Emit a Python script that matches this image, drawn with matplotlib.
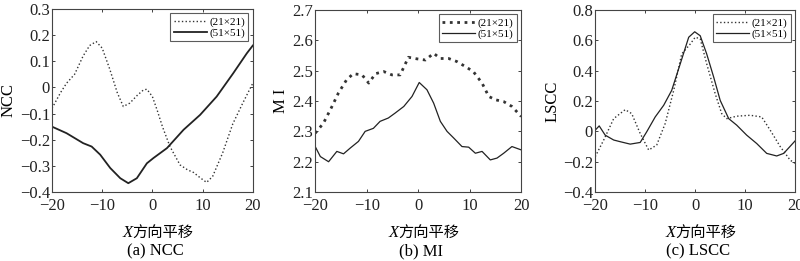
import matplotlib
matplotlib.use("Agg")
import matplotlib.pyplot as plt

plt.rcParams['font.family'] = ['Liberation Serif', 'Noto Sans CJK SC']

# (a) NCC
ncc_x_21 = [-20, -18.3, -17.1, -15.5, -13.8, -12.5, -11.2, -10, -8.5, -7, -5.8, -4.5, -3, -1.8, -1.1, 0, 1, 2, 3.5, 5.5, 7, 8.2, 9.5, 10.8, 12, 14, 16, 18, 20]
ncc_y_21 = [-0.08, -0.02, 0.016, 0.05, 0.12, 0.16, 0.175, 0.15, 0.07, -0.02, -0.073, -0.06, -0.03, -0.01, -0.007, -0.035, -0.09, -0.15, -0.226, -0.296, -0.315, -0.325, -0.345, -0.363, -0.34, -0.25, -0.14, -0.06, 0.016]
ncc_x_51 = [-20, -17.1, -13.8, -12.1, -10.4, -8.4, -6.4, -4.8, -3.1, -1.1, 0.2, 2.9, 6.2, 9.5, 12.8, 16.1, 18.8, 20]
ncc_y_51 = [-0.15, -0.175, -0.213, -0.226, -0.257, -0.308, -0.347, -0.366, -0.347, -0.29, -0.27, -0.232, -0.162, -0.105, -0.035, 0.054, 0.13, 0.16]

# (b) MI
mi_x_21 = [-20, -18.4, -16.8, -15.5, -13.9, -12.6, -10.9, -9.6, -8.3, -6.7, -5.1, -3.5, -1.9, -0.3, 1.4, 3.0, 4.3, 5.9, 7.5, 9.1, 10.7, 12.4, 13.7, 15.0, 16.6, 18.2, 20]
mi_y_21 = [2.294, 2.327, 2.38, 2.426, 2.47, 2.49, 2.486, 2.459, 2.49, 2.497, 2.486, 2.486, 2.544, 2.539, 2.535, 2.557, 2.54, 2.54, 2.53, 2.514, 2.497, 2.459, 2.415, 2.404, 2.398, 2.382, 2.349]
mi_x_51 = [-20, -19, -17.4, -15.8, -14.5, -13.2, -11.6, -10.3, -8.7, -7.4, -5.8, -4.5, -2.8, -1.2, 0.2, 1.7, 3.0, 4.3, 5.6, 6.9, 8.5, 9.8, 11.1, 12.4, 14.0, 15.3, 16.6, 18.2, 20]
mi_y_51 = [2.25, 2.217, 2.2, 2.234, 2.226, 2.245, 2.267, 2.3, 2.31, 2.333, 2.344, 2.36, 2.382, 2.415, 2.461, 2.437, 2.393, 2.333, 2.3, 2.278, 2.25, 2.248, 2.228, 2.234, 2.206, 2.212, 2.228, 2.25, 2.239]

# (c) LSCC
lscc_x_21 = [-20, -18.3, -16.3, -14, -12.7, -11, -9.3, -7.7, -6, -4.3, -2.7, -1, 0, 1, 2.3, 4, 5.3, 6.3, 8.3, 11, 13.3, 15, 17, 19, 20]
lscc_y_21 = [-0.167, -0.057, 0.084, 0.143, 0.117, -0.014, -0.123, -0.09, 0.052, 0.27, 0.51, 0.575, 0.62, 0.61, 0.445, 0.248, 0.117, 0.084, 0.1, 0.106, 0.095, 0.008, -0.1, -0.19, -0.21]
lscc_x_51 = [-20, -19.2, -18, -16.3, -15, -13, -11, -9.7, -8, -6.3, -4.7, -3, -1.3, -0.1, 1, 2.3, 3.7, 5, 6.7, 8.3, 10.3, 12.3, 14.3, 16.3, 17.7, 20]
lscc_y_51 = [0.008, 0.036, -0.025, -0.057, -0.068, -0.084, -0.073, -0.003, 0.095, 0.172, 0.27, 0.444, 0.62, 0.656, 0.63, 0.51, 0.357, 0.204, 0.084, 0.041, -0.025, -0.08, -0.145, -0.162, -0.145, -0.062]

labels = ['(21×21)', '(51×51)']
xticks = [-20, -10, 0, 10, 20]

fig = plt.figure(figsize=(8, 2.61), dpi=100)

panels = [
    # rect, data, ylabel, ylim, yticks, caption, dotted width, solid width
    ([0.065, 0.264, 0.251, 0.702], (ncc_x_21, ncc_y_21, ncc_x_51, ncc_y_51), 'NCC',
     (-0.4, 0.3), [-0.4, -0.3, -0.2, -0.1, 0, 0.1, 0.2, 0.3], '(a) NCC', 1.0, 1.3),
    ([0.394, 0.264, 0.2575, 0.698], (mi_x_21, mi_y_21, mi_x_51, mi_y_51), 'M I',
     (2.1, 2.7), [2.1, 2.2, 2.3, 2.4, 2.5, 2.6, 2.7], '(b) MI', 2.0, 0.9),
    ([0.744, 0.264, 0.25, 0.698], (lscc_x_21, lscc_y_21, lscc_x_51, lscc_y_51), 'LSCC',
     (-0.4, 0.8), [-0.4, -0.2, 0, 0.2, 0.4, 0.6, 0.8], '(c) LSCC', 1.0, 0.9),
]

def minus(v):
    return ('%g' % v).replace('-', '\u2212')

for rect, (x1, y1, x2, y2), ylab, ylim, yticks, cap, dw, sw in panels:
    ax = fig.add_axes(rect)
    ax.plot(x1, y1, color='#333333', linestyle=':', linewidth=dw, label=labels[0])
    ax.plot(x2, y2, color='#222222', linestyle='-', linewidth=sw, label=labels[1])
    ax.set_xlim(-20, 20)
    ax.set_ylim(*ylim)
    ax.set_xticks(xticks)
    ax.set_xticklabels([minus(t) for t in xticks])
    ax.set_yticks(yticks)
    ax.set_yticklabels([minus(t) for t in yticks])
    ax.tick_params(direction='in', top=True, right=True, length=2.5, width=0.6,
                   labelsize=12, colors='#222222')
    ax.tick_params(axis='x', pad=4)
    ax.tick_params(axis='y', pad=1.5)
    for s in ax.spines.values():
        s.set_linewidth(0.8)
        s.set_color('#444444')
    ax.set_ylabel(ylab, fontsize=12, labelpad=2)

    # x label: italic X followed by Chinese text
    ax.annotate('X', xy=(0.5, 0), xycoords='axes fraction', xytext=(-14.4, -29.5),
                textcoords='offset points', ha='right', va='center', fontsize=12,
                style='italic', family='Liberation Serif')
    ax.annotate('方向平移', xy=(0.5, 0), xycoords='axes fraction', xytext=(-14.4, -29.5),
                textcoords='offset points', ha='left', va='center', fontsize=11,
                family='Noto Sans CJK SC')
    ax.annotate(cap, xy=(0.5, 0), xycoords='axes fraction', xytext=(2, -42.5),
                textcoords='offset points', ha='center', va='center', fontsize=12)

    leg = ax.legend(loc='upper right', fontsize=8, frameon=True, fancybox=False,
                    borderpad=0.3, handlelength=3.0, handletextpad=0.2, labelspacing=0.1,
                    borderaxespad=0.4)
    leg.get_frame().set_edgecolor('#333333')
    leg.get_frame().set_linewidth(0.8)

fig.savefig('out.png', dpi=100)
